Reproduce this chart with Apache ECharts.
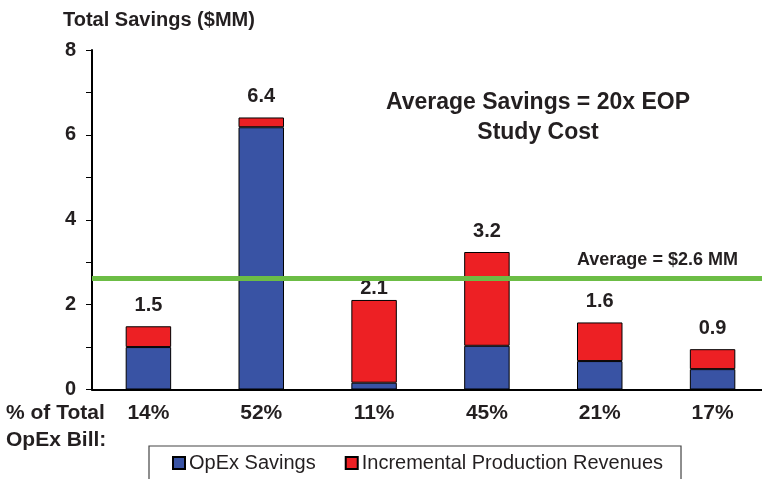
<!DOCTYPE html>
<html>
<head>
<meta charset="utf-8">
<script src="https://cdn.jsdelivr.net/npm/echarts@6/dist/echarts.min.js"></script>
<style>
html,body{margin:0;padding:0;background:#fff;overflow:hidden;width:762px;height:479px;}
#c{width:770px;height:479px;}
</style>
</head>
<body>
<div id="c"></div>
<script>
var categories = ['14%', '52%', '11%', '45%', '21%', '17%'];
var opexSavings = [1.0, 6.18, 0.16, 1.03, 0.67, 0.48];
var incrementalRevenues = [0.49, 0.23, 1.95, 2.21, 0.91, 0.47];
var totalLabels = ['1.5', '6.4', '2.1', '3.2', '1.6', '0.9'];
var averageValue = 2.62;
var yLabelValues = [0, 2, 4, 6, 8];

var FONT = '"Liberation Sans", Arial, Helvetica, sans-serif';
var TXT = '#231F20';

// the "2.1" label sits just under the average line in the original
var incData = incrementalRevenues.map(function (v, i) {
  return i === 2 ? {value: v, label: {distance: 1}} : v;
});

var chart = echarts.init(document.getElementById('c'), null, {renderer: 'canvas'});
chart.setOption({
  animation: false,
  backgroundColor: '#fff',
  textStyle: {fontFamily: FONT},
  grid: {left: 92, right: 1, top: 50, bottom: 89.5, containLabel: false},
  legend: {
    left: 149, top: 446,
    orient: 'horizontal',
    itemWidth: 12, itemHeight: 12, itemGap: 29,
    padding: [7, 18, 30, 23],
    borderColor: '#444', borderWidth: 1.2,
    icon: 'rect',
    textStyle: {fontFamily: FONT, fontSize: 20, color: TXT, padding: [0, 0, 0, -1]},
    data: ['OpEx Savings', 'Incremental Production Revenues']
  },
  xAxis: {
    type: 'category',
    data: categories,
    axisLine: {lineStyle: {color: '#000', width: 2}},
    axisTick: {show: false},
    axisLabel: {fontFamily: FONT, fontSize: 21, fontWeight: 'bold', color: TXT, margin: 13}
  },
  yAxis: {
    type: 'value', min: 0, max: 8, interval: 1,
    splitLine: {show: false},
    axisLine: {show: true, lineStyle: {color: '#000', width: 2}},
    axisTick: {show: true, length: 6, lineStyle: {color: '#000', width: 1}},
    axisLabel: {
      fontFamily: FONT, fontSize: 20, fontWeight: 'bold', color: TXT, margin: 16,
      formatter: function (v) { return yLabelValues.indexOf(v) >= 0 ? String(v) : ''; }
    }
  },
  series: [
    {
      name: 'OpEx Savings', type: 'bar', stack: 'total',
      data: opexSavings, barWidth: '40.3%',
      itemStyle: {color: '#3953A4', borderColor: '#000', borderWidth: 1},
      markLine: {
        silent: true, symbol: 'none',
        lineStyle: {color: '#6CBD45', width: 5, type: 'solid'},
        label: {show: false},
        data: [{yAxis: averageValue}]
      }
    },
    {
      name: 'Incremental Production Revenues', type: 'bar', stack: 'total',
      data: incData, barWidth: '40.3%',
      itemStyle: {color: '#ED2024', borderColor: '#000', borderWidth: 1},
      label: {
        show: true, position: 'top', distance: 11,
        fontFamily: FONT, fontSize: 20, fontWeight: 'bold', color: TXT,
        formatter: function (p) { return totalLabels[p.dataIndex]; }
      }
    }
  ],
  graphic: [
    {type: 'text', style: {x: 63, y: 20, text: 'Total Savings ($MM)', font: 'bold 20px ' + FONT, fill: TXT, textVerticalAlign: 'middle'}},
    {type: 'text', style: {x: 538, y: 118, text: 'Average Savings = 20x EOP\nStudy Cost', font: 'bold 23px ' + FONT, fill: TXT, textAlign: 'center', textVerticalAlign: 'middle', lineHeight: 30}},
    {type: 'text', style: {x: 577, y: 260, text: 'Average = $2.6 MM', font: 'bold 18px ' + FONT, fill: TXT, textVerticalAlign: 'middle'}},
    {type: 'text', style: {x: 6, y: 426.5, text: '% of Total\nOpEx Bill:', font: 'bold 21px ' + FONT, fill: TXT, textVerticalAlign: 'middle', lineHeight: 27}}
  ]
});
</script>
</body>
</html>
